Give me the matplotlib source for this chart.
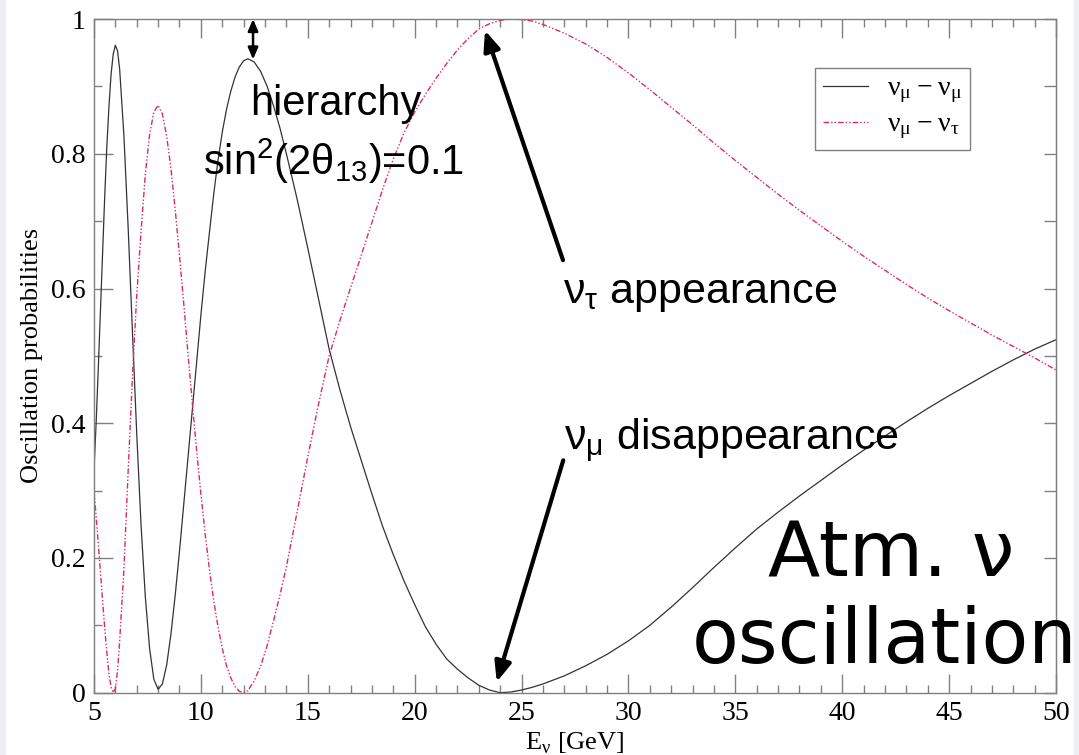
import numpy as np
import matplotlib
matplotlib.use('Agg')
import matplotlib.pyplot as plt
from matplotlib.patches import Rectangle, FancyArrowPatch
from matplotlib.ticker import MultipleLocator, FixedLocator

# neutrino energy grid [GeV] and oscillation probabilities
E_GeV = [5.0, 5.1, 5.2, 5.3, 5.4, 5.5, 5.6, 5.7, 5.8, 5.9, 6.0, 6.1,
         6.2, 6.4, 6.6, 6.8, 7.0, 7.2, 7.4, 7.6, 7.8, 8.0,
         8.2, 8.4, 8.6, 8.8, 9.0, 9.2, 9.4, 9.6, 9.8, 10.0,
         10.2, 10.4, 10.6, 10.8, 11.0, 11.2, 11.4, 11.6, 11.8, 12.0, 12.2,
         12.5, 12.8, 13.1, 13.4, 13.7, 14.0, 14.5, 15.0, 15.5, 16.0, 16.5, 17.0,
         17.5, 18.0, 18.5, 19.0, 19.5, 20.0, 20.5, 21.0, 21.5, 22.0,
         22.5, 23.0, 23.5, 24.0, 24.5, 25.0, 25.5,
         26, 27, 28, 29, 30, 31, 32, 33, 34, 35, 36, 37, 38,
         39, 40, 41, 42, 43, 44, 45, 46, 47, 48, 49, 50]

P_mumu = [0.33, 0.40, 0.48, 0.565, 0.65, 0.735, 0.81, 0.87, 0.918, 0.948, 0.961, 0.953,
          0.926, 0.827, 0.689, 0.535, 0.384, 0.250, 0.143, 0.066, 0.020, 0.005,
          0.013, 0.041, 0.087, 0.145, 0.21, 0.28, 0.35, 0.42, 0.49, 0.56,
          0.625, 0.683, 0.74, 0.79, 0.832, 0.866, 0.893, 0.914, 0.929, 0.938, 0.941,
          0.936, 0.922, 0.900, 0.871, 0.838, 0.80, 0.733, 0.66, 0.585, 0.51, 0.45, 0.395,
          0.345, 0.295, 0.247, 0.205, 0.166, 0.131, 0.098, 0.072, 0.05, 0.035,
          0.022, 0.011, 0.004, 0.0, 0.001, 0.004, 0.008,
          0.013, 0.025, 0.04, 0.057, 0.077, 0.10, 0.127, 0.156, 0.186, 0.215,
          0.243, 0.268, 0.292, 0.315, 0.338, 0.36, 0.381, 0.402, 0.422, 0.441,
          0.459, 0.477, 0.494, 0.51, 0.524]

P_mutau = [0.30, 0.262, 0.222, 0.18, 0.138, 0.097, 0.06, 0.028, 0.008, 0.0, 0.006, 0.032,
           0.076, 0.183, 0.33, 0.47, 0.59, 0.684, 0.769, 0.828, 0.862, 0.872,
           0.859, 0.826, 0.778, 0.717, 0.649, 0.577, 0.502, 0.43, 0.36, 0.295,
           0.236, 0.183, 0.137, 0.098, 0.066, 0.04, 0.022, 0.009, 0.002, 0.0, 0.003,
           0.018, 0.040, 0.070, 0.107, 0.145, 0.187, 0.268, 0.350, 0.428, 0.50, 0.552, 0.601,
           0.649, 0.698, 0.747, 0.792, 0.831, 0.862, 0.888, 0.912, 0.934, 0.954,
           0.971, 0.985, 0.993, 0.998, 1.0, 0.999, 0.997,
           0.992, 0.979, 0.963, 0.943, 0.92, 0.895, 0.869, 0.843, 0.816, 0.79,
           0.765, 0.74, 0.716, 0.693, 0.67, 0.648, 0.627, 0.606, 0.586, 0.567,
           0.549, 0.531, 0.514, 0.497, 0.479]

y_ticks = [0, 0.2, 0.4, 0.6, 0.8, 1.0]
y_ticklabels = ['0', '0.2', '0.4', '0.6', '0.8', '1']

SERIF = ['Liberation Serif', 'DejaVu Serif']
SANS = ['Liberation Sans', 'DejaVu Sans']
RED = '#dc2c5c'
GRID = '#808080'

fig = plt.figure(figsize=(10.79, 7.55), dpi=100)
fig.patches.append(Rectangle((0, 0), 0.005, 1, transform=fig.transFigure, color='#eceef2', zorder=0))
fig.patches.append(Rectangle((0.995, 0), 0.005, 1, transform=fig.transFigure, color='#eceef2', zorder=0))

ax = fig.add_axes([0.0871, 0.0825, 0.8916, 0.8923])
ax.plot(E_GeV, P_mumu, color='#333333', lw=0.9, label=r'$\mathregular{ν_μ - ν_μ}$')
ax.plot(E_GeV, P_mutau, color=RED, lw=1.0, dashes=(4, 1.5, 1, 1.5, 1, 1.5),
        label=r'$\mathregular{ν_μ - ν_τ}$')

ax.set_xlim(5, 50); ax.set_ylim(0, 1)
ax.xaxis.set_major_locator(MultipleLocator(5))
ax.xaxis.set_minor_locator(MultipleLocator(1))
ax.yaxis.set_major_locator(FixedLocator(y_ticks))
ax.yaxis.set_minor_locator(MultipleLocator(0.1))
ax.set_yticklabels(y_ticklabels)
for s in ax.spines.values():
    s.set_color(GRID); s.set_linewidth(1.0)
ax.tick_params(which='both', direction='in', top=True, right=False, color=GRID, width=1.0,
               labelsize=20, pad=6)
ax.tick_params(which='major', length=14)
ax.tick_params(which='minor', length=6)
for lab in ax.get_xticklabels() + ax.get_yticklabels():
    lab.set_family(SERIF)

# right-hand ticks are all the same short length
sec = ax.secondary_yaxis('right')
sec.yaxis.set_major_locator(MultipleLocator(0.1))
sec.tick_params(direction='in', length=8.5, color=GRID, width=1.0, labelright=False)
sec.spines['right'].set_color(GRID)

ax.set_xlabel(r'E$_\mathregular{ν}$ [GeV]', family=SERIF, fontsize=19, labelpad=3)
ax.set_ylabel('Oscillation probabilities', family=SERIF, fontsize=19, labelpad=6)

leg = ax.legend(loc='upper left', bbox_to_anchor=(0.7495, 0.928), prop={'family': SERIF, 'size': 20},
                fancybox=False, edgecolor=GRID, framealpha=1, handlelength=1.6, handletextpad=0.7,
                borderpad=0.3, labelspacing=0.25, borderaxespad=0)
leg.get_frame().set_linewidth(1.0)

# annotations
ax.text(16.3, 0.857, 'hierarchy', family=SANS, fontsize=30, ha='center', va='baseline')
ax.text(16.2, 0.768, r'sin$^\mathregular{2}$(2θ$_\mathregular{13}$)=0.1', family=SANS, fontsize=30,
        ha='center', va='baseline')
ax.text(26.94, 0.578, r'$\mathregular{ν_τ}$ appearance', family=SANS, fontsize=31, va='baseline')
ax.text(27.0, 0.36, r'$\mathregular{ν_μ}$ disappearance', family=SANS, fontsize=31, va='baseline')
ax.text(42.3, 0.172, 'Atm. ν', family='DejaVu Sans', fontsize=55, ha='center', va='baseline',
        clip_on=False)
ax.text(42.0, 0.044, 'oscillation', family='DejaVu Sans', fontsize=55, ha='center', va='baseline',
        clip_on=False)

ax.add_patch(FancyArrowPatch((12.44, 0.94), (12.44, 1.0), arrowstyle='<|-|>,head_length=0.7,head_width=0.3',
                             mutation_scale=10, lw=1.8, color='black', shrinkA=0, shrinkB=0, clip_on=False))
ax.add_patch(FancyArrowPatch((26.94, 0.642), (23.29, 0.983), arrowstyle='-|>,head_length=0.6,head_width=0.25',
                             mutation_scale=20, lw=3, color='black', shrinkA=0, shrinkB=0))
ax.add_patch(FancyArrowPatch((26.95, 0.345), (23.84, 0.016), arrowstyle='-|>,head_length=0.6,head_width=0.25',
                             mutation_scale=20, lw=3, color='black', shrinkA=0, shrinkB=0))

fig.savefig('out.png', dpi=100)
